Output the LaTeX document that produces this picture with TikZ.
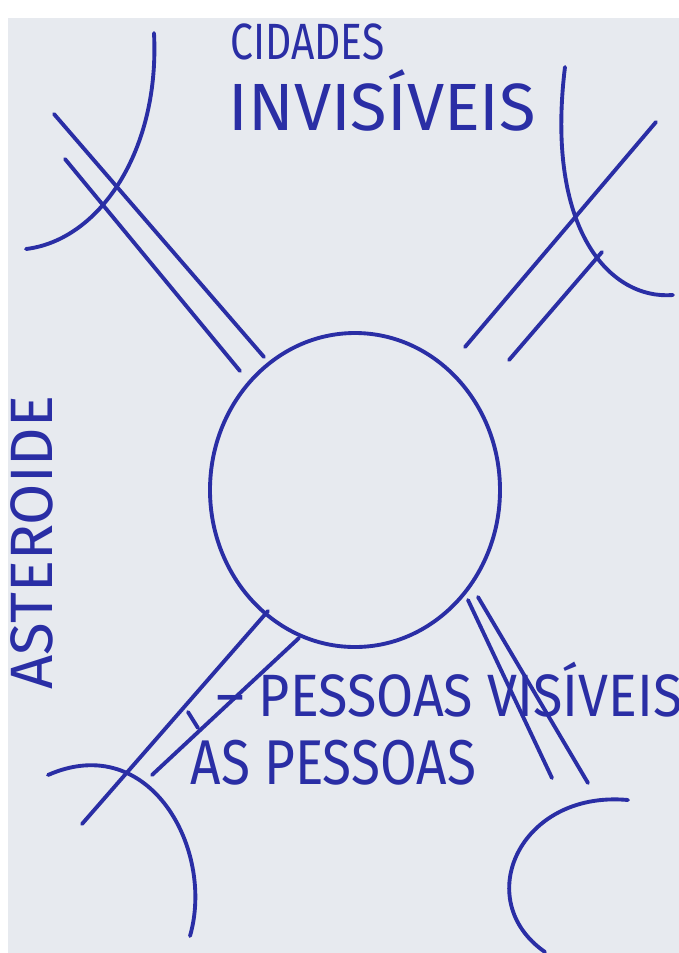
\documentclass[tikz,border=0pt]{standalone}
\usepackage{fontspec}
\setmainfont{Fira Sans}
\usetikzlibrary{positioning}
\definecolor{ink}{RGB}{42,46,165}
\definecolor{paper}{RGB}{231,234,239}
\tikzset{
  pen/.style={draw=ink,line width=1.1pt,line cap=round},
  word/.style={text=ink,inner sep=0pt,anchor=west}
}

\begin{document}
\begin{tikzpicture}[x=0.01cm,y=-0.01cm]
  \useasboundingbox (0,0) rectangle (679,953);
  \fill[white] (0,0) rectangle (679,953);
  \fill[paper] (8,18) rectangle (679,953);
  % the world in the middle
  \draw[pen] (355,490) ellipse [x radius=145, y radius=157];
  % roads
  \draw[pen] (54,114) -- (264,357);
  \draw[pen] (65,159) -- (240,371);
  \draw[pen] (656,122) -- (465,347);
  \draw[pen] (602,252) -- (509,360);
  \draw[pen] (268,611) -- (82,824);
  \draw[pen] (299,638) -- (152,775);
  \draw[pen] (468,600) -- (552,778);
  \draw[pen] (478,597) -- (588,783);
  \draw[pen] (188,712) -- (198,728);
  % cities in the corners
  \draw[pen] (154,33) .. controls (160,150) and (100,240) .. (26,249);
  \draw[pen] (565,67) .. controls (545,230) and (610,300) .. (673,295);
  \draw[pen] (48,775) .. controls (150,730) and (215,850) .. (190,936);
  \draw[pen] (628,800) .. controls (520,790) and (470,900) .. (545,952);
  % labels
  \node[word,font=\fontsize{14.5}{14.5}\selectfont,xscale=0.8] (cidades) at (230,42) {CIDADES};
  \node[word,font=\fontsize{19}{19}\selectfont] (invisiveis) at (228,100) {INVISÍVEIS};
  \node[word,font=\fontsize{17}{17}\selectfont,rotate=90] (asteroide) at (32,690) {ASTEROIDE};
  \node[word,font=\fontsize{17}{17}\selectfont,xscale=0.9] (visiveis) at (216,690) {– PESSOAS VISÍVEIS};
  \node[word,font=\fontsize{18}{18}\selectfont,xscale=0.84] (aspessoas) at (190,763) {AS PESSOAS};
\end{tikzpicture}
\end{document}
